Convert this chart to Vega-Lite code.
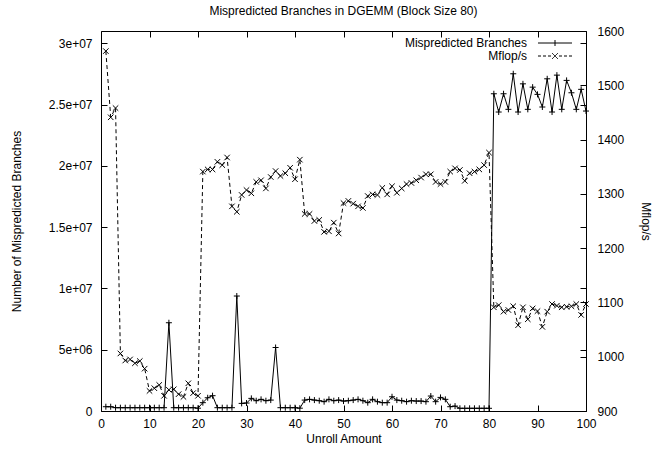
{
  "$schema": "https://vega.github.io/schema/vega-lite/v6.json",
  "autosize": {"type": "none"},
  "padding": {"left": 101, "top": 31, "right": 73, "bottom": 38},
  "width": 485,
  "height": 380,
  "background": "white",
  "title": {"text": "Mispredicted Branches in DGEMM (Block Size 80)", "fontSize": 12, "fontWeight": "normal", "font": "Liberation Sans", "color": "black", "offset": 7, "anchor": "middle", "frame": "group"},
  "config": {
    "view": {"stroke": "black", "strokeWidth": 1},
    "font": "Liberation Sans",
    "axis": {"grid": false, "domain": false, "tickColor": "black", "tickSize": -6, "tickWidth": 1, "labelColor": "black", "titleColor": "black", "labelFontSize": 12, "titleFontSize": 12, "titleFontWeight": "normal", "labelFont": "Liberation Sans", "titleFont": "Liberation Sans", "labelFlush": false, "labelOverlap": false}
  },
  "data": {"values": [
    {"x": 1, "branches": 350000, "mflops": 1563},
    {"x": 2, "branches": 350000, "mflops": 1441},
    {"x": 3, "branches": 270000, "mflops": 1458},
    {"x": 4, "branches": 270000, "mflops": 1006},
    {"x": 5, "branches": 270000, "mflops": 993},
    {"x": 6, "branches": 270000, "mflops": 995},
    {"x": 7, "branches": 270000, "mflops": 988},
    {"x": 8, "branches": 270000, "mflops": 992},
    {"x": 9, "branches": 270000, "mflops": 978},
    {"x": 10, "branches": 270000, "mflops": 937},
    {"x": 11, "branches": 270000, "mflops": 942},
    {"x": 12, "branches": 270000, "mflops": 948},
    {"x": 13, "branches": 270000, "mflops": 928},
    {"x": 14, "branches": 7200000, "mflops": 939},
    {"x": 15, "branches": 270000, "mflops": 940},
    {"x": 16, "branches": 270000, "mflops": 931},
    {"x": 17, "branches": 270000, "mflops": 926},
    {"x": 18, "branches": 270000, "mflops": 951},
    {"x": 19, "branches": 270000, "mflops": 933},
    {"x": 20, "branches": 230000, "mflops": 928},
    {"x": 21, "branches": 680000, "mflops": 1341},
    {"x": 22, "branches": 1080000, "mflops": 1345},
    {"x": 23, "branches": 1250000, "mflops": 1345},
    {"x": 24, "branches": 270000, "mflops": 1359},
    {"x": 25, "branches": 270000, "mflops": 1353},
    {"x": 26, "branches": 270000, "mflops": 1367},
    {"x": 27, "branches": 270000, "mflops": 1277},
    {"x": 28, "branches": 9380000, "mflops": 1267},
    {"x": 29, "branches": 620000, "mflops": 1298},
    {"x": 30, "branches": 650000, "mflops": 1307},
    {"x": 31, "branches": 1030000, "mflops": 1301},
    {"x": 32, "branches": 840000, "mflops": 1322},
    {"x": 33, "branches": 950000, "mflops": 1325},
    {"x": 34, "branches": 840000, "mflops": 1310},
    {"x": 35, "branches": 890000, "mflops": 1331},
    {"x": 36, "branches": 5180000, "mflops": 1342},
    {"x": 37, "branches": 270000, "mflops": 1333},
    {"x": 38, "branches": 270000, "mflops": 1338},
    {"x": 39, "branches": 270000, "mflops": 1348},
    {"x": 40, "branches": 270000, "mflops": 1327},
    {"x": 41, "branches": 230000, "mflops": 1363},
    {"x": 42, "branches": 890000, "mflops": 1263},
    {"x": 43, "branches": 950000, "mflops": 1263},
    {"x": 44, "branches": 890000, "mflops": 1250},
    {"x": 45, "branches": 840000, "mflops": 1252},
    {"x": 46, "branches": 760000, "mflops": 1230},
    {"x": 47, "branches": 950000, "mflops": 1231},
    {"x": 48, "branches": 840000, "mflops": 1247},
    {"x": 49, "branches": 890000, "mflops": 1227},
    {"x": 50, "branches": 810000, "mflops": 1283},
    {"x": 51, "branches": 840000, "mflops": 1287},
    {"x": 52, "branches": 890000, "mflops": 1282},
    {"x": 53, "branches": 950000, "mflops": 1277},
    {"x": 54, "branches": 840000, "mflops": 1274},
    {"x": 55, "branches": 680000, "mflops": 1296},
    {"x": 56, "branches": 950000, "mflops": 1299},
    {"x": 57, "branches": 760000, "mflops": 1298},
    {"x": 58, "branches": 680000, "mflops": 1311},
    {"x": 59, "branches": 680000, "mflops": 1299},
    {"x": 60, "branches": 1160000, "mflops": 1314},
    {"x": 61, "branches": 890000, "mflops": 1302},
    {"x": 62, "branches": 840000, "mflops": 1310},
    {"x": 63, "branches": 760000, "mflops": 1318},
    {"x": 64, "branches": 840000, "mflops": 1320},
    {"x": 65, "branches": 810000, "mflops": 1325},
    {"x": 66, "branches": 810000, "mflops": 1330},
    {"x": 67, "branches": 760000, "mflops": 1336},
    {"x": 68, "branches": 1220000, "mflops": 1336},
    {"x": 69, "branches": 760000, "mflops": 1322},
    {"x": 70, "branches": 1110000, "mflops": 1318},
    {"x": 71, "branches": 950000, "mflops": 1322},
    {"x": 72, "branches": 350000, "mflops": 1341},
    {"x": 73, "branches": 400000, "mflops": 1347},
    {"x": 74, "branches": 220000, "mflops": 1344},
    {"x": 75, "branches": 220000, "mflops": 1324},
    {"x": 76, "branches": 220000, "mflops": 1338},
    {"x": 77, "branches": 220000, "mflops": 1341},
    {"x": 78, "branches": 220000, "mflops": 1345},
    {"x": 79, "branches": 220000, "mflops": 1353},
    {"x": 80, "branches": 220000, "mflops": 1376},
    {"x": 81, "branches": 25880000, "mflops": 1091},
    {"x": 82, "branches": 24390000, "mflops": 1095},
    {"x": 83, "branches": 25880000, "mflops": 1083},
    {"x": 84, "branches": 24610000, "mflops": 1086},
    {"x": 85, "branches": 27510000, "mflops": 1093},
    {"x": 86, "branches": 24390000, "mflops": 1058},
    {"x": 87, "branches": 26690000, "mflops": 1091},
    {"x": 88, "branches": 24610000, "mflops": 1069},
    {"x": 89, "branches": 26420000, "mflops": 1089},
    {"x": 90, "branches": 25830000, "mflops": 1084},
    {"x": 91, "branches": 24800000, "mflops": 1055},
    {"x": 92, "branches": 27100000, "mflops": 1083},
    {"x": 93, "branches": 24390000, "mflops": 1097},
    {"x": 94, "branches": 27400000, "mflops": 1094},
    {"x": 95, "branches": 24610000, "mflops": 1091},
    {"x": 96, "branches": 26970000, "mflops": 1092},
    {"x": 97, "branches": 25960000, "mflops": 1093},
    {"x": 98, "branches": 24610000, "mflops": 1097},
    {"x": 99, "branches": 26240000, "mflops": 1077},
    {"x": 100, "branches": 24470000, "mflops": 1097}
  ]},
  "resolve": {"scale": {"y": "independent"}},
  "layer": [
    {
      "mark": {"type": "line", "strokeWidth": 1},
      "encoding": {
        "x": {"field": "x", "type": "quantitative", "scale": {"domain": [0, 100], "nice": false, "zero": false},
              "axis": {"orient": "bottom", "values": [0,10,20,30,40,50,60,70,80,90,100], "title": "Unroll Amount", "labelPadding": 13, "titlePadding": 4, "format": "d"}},
        "y": {"field": "branches", "type": "quantitative", "scale": {"domain": [0, 31000000], "nice": false, "zero": false},
              "axis": {"orient": "left", "values": [0,5000000,10000000,15000000,20000000,25000000,30000000], "title": "Number of Mispredicted Branches", "labelExpr": "datum.value == 0 ? '0' : replace(format(datum.value, '~e'), 'e+', 'e+0')", "labelPadding": 15, "titlePadding": 25}},
        "color": {"datum": "Mispredicted Branches", "type": "nominal",
                  "scale": {"domain": ["Mispredicted Branches", "Mflop/s"], "range": ["black", "black"]},
                  "legend": {"title": null, "orient": "none", "legendX": 448, "legendY": 6, "labelAlign": "right", "labelOffset": -34, "labelFontSize": 12, "labelFont": "Liberation Sans", "labelColor": "black", "symbolSize": 36, "symbolStrokeWidth": 1, "symbolStrokeColor": "black", "rowPadding": 1, "padding": 0,
                    "encode": {"symbols": {"update": {
                      "shape": {"signal": "datum.value === 'Mflop/s' ? 'M-5.667,0H-4.667M-4,0H-3M-2.333,0H-1.333M1.333,0H2.333M3,0H4M4.667,0H5.667M-1,-1L1,1M-1,1L1,-1' : 'M-5.667,0H5.667M0,-1V1'"},
                      "strokeDash": {"value": [1, 0]},
                      "fill": {"value": "transparent"},
                      "stroke": {"value": "black"}
                    }}}}}
      }
    },
    {
      "mark": {"type": "point", "shape": "M-1,0H1M0,-1V1", "filled": false, "stroke": "black", "strokeWidth": 1, "size": 36, "opacity": 1},
      "encoding": {
        "x": {"field": "x", "type": "quantitative", "axis": null},
        "y": {"field": "branches", "type": "quantitative", "scale": {"domain": [0, 31000000], "nice": false, "zero": false}, "axis": null}
      }
    },
    {
      "mark": {"type": "line", "strokeWidth": 1, "strokeDash": [4, 3]},
      "encoding": {
        "x": {"field": "x", "type": "quantitative", "axis": null},
        "y": {"field": "mflops", "type": "quantitative", "scale": {"domain": [900, 1600], "nice": false, "zero": false},
              "axis": {"orient": "right", "values": [900,1000,1100,1200,1300,1400,1500,1600], "title": "Mflop/s", "format": "d", "labelPadding": 17, "titlePadding": 15}},
        "color": {"datum": "Mflop/s", "type": "nominal"}
      }
    },
    {
      "mark": {"type": "point", "shape": "M-1,-1L1,1M-1,1L1,-1", "filled": false, "stroke": "black", "strokeWidth": 1, "size": 30, "opacity": 1},
      "encoding": {
        "x": {"field": "x", "type": "quantitative", "axis": null},
        "y": {"field": "mflops", "type": "quantitative", "scale": {"domain": [900, 1600], "nice": false, "zero": false}, "axis": null}
      }
    },
    {
      "mark": {"type": "line", "opacity": 0},
      "encoding": {
        "x": {"field": "x", "type": "quantitative", "axis": {"orient": "top", "values": [0,10,20,30,40,50,60,70,80,90,100], "labels": false, "title": null}},
        "y": {"field": "branches", "type": "quantitative", "scale": {"domain": [0, 31000000], "nice": false, "zero": false},
              "axis": {"orient": "right", "values": [0,5000000,10000000,15000000,20000000,25000000,30000000], "labels": false, "title": null}}
      }
    }
  ]
}
